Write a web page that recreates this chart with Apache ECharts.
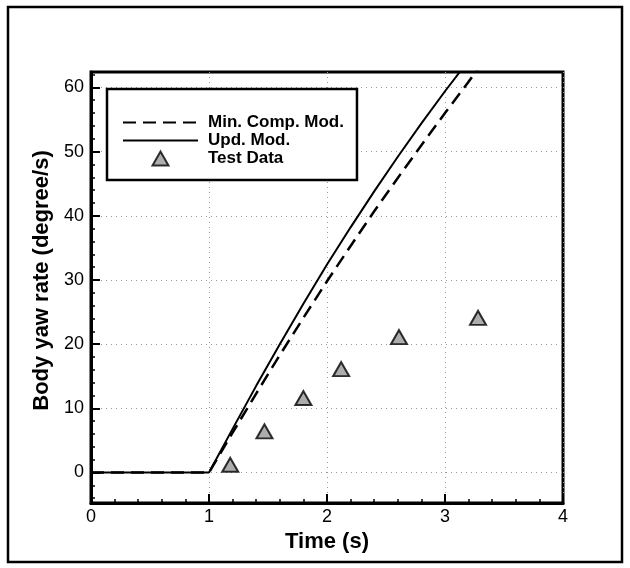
<!DOCTYPE html>
<html>
<head>
<meta charset="utf-8">
<script src="https://cdn.jsdelivr.net/npm/echarts@6/dist/echarts.min.js"></script>
<style>
  html, body { margin: 0; padding: 0; background: #fff; }
  #chart { width: 630px; height: 568px; }
</style>
</head>
<body>
<div id="chart"></div>
<script>
// Updated model response
const updTime = [0, 1.0, 1.2, 1.4, 1.6, 1.8, 2.0, 2.2, 2.4, 2.6, 2.8, 3.0, 3.2, 3.4];
const updRate = [0, 0, 6.8, 13.5, 20.0, 26.3, 32.4, 38.2, 43.8, 49.2, 54.4, 59.4, 64.2, 68.8];

// Minimum complexity model response
const minTime = [0, 1.0, 1.2, 1.4, 1.6, 1.8, 2.0, 2.2, 2.4, 2.6, 2.8, 3.0, 3.2, 3.4];
const minRate = [0, 0, 6.2, 12.3, 18.3, 24.1, 29.8, 35.3, 40.7, 45.9, 51.0, 56.0, 60.9, 65.7];

// Flight test measurements
const testTime = [1.18, 1.47, 1.80, 2.12, 2.61, 3.28];
const testRate = [1.2, 6.4, 11.6, 16.1, 21.1, 24.1];

// Axis ticks
const yTicks = [0, 10, 20, 30, 40, 50, 60];
const yMinorTicks = [-4, -2, 2, 4, 6, 8, 12, 14, 16, 18, 22, 24, 26, 28, 32, 34, 36, 38, 42, 44, 46, 48, 52, 54, 56, 58, 62];

const pairs = (xs, ys) => xs.map((x, i) => [x, ys[i]]);

const FONT = '"Liberation Sans", Arial, Helvetica, sans-serif';
const Y_MIN = -4.75, Y_MAX = 62.4;

const chart = echarts.init(document.getElementById('chart'), null, { renderer: 'canvas' });

chart.setOption({
  animation: false,
  backgroundColor: '#fff',
  graphic: [{
    type: 'rect',
    shape: { x: 8, y: 7, width: 614, height: 555 },
    style: { fill: 'none', stroke: '#000', lineWidth: 2.5 },
    z: 100
  }],
  grid: {
    left: 91, top: 72, width: 472, height: 431,
    show: true, borderColor: '#000', borderWidth: 3, backgroundColor: 'transparent'
  },
  legend: {
    left: 107, top: 89,
    orient: 'vertical',
    backgroundColor: '#fff',
    borderColor: '#000', borderWidth: 2.5, borderRadius: 0,
    padding: [25, 13, 13, 15],
    itemWidth: 75, itemHeight: 14, itemGap: 1,
    symbolKeepAspect: true,
    textStyle: { fontFamily: FONT, fontSize: 17, fontWeight: 'bold', color: '#000', padding: [0, 0, 0, 5] },
    data: [
      { name: 'Min. Comp. Mod.', itemStyle: { opacity: 0 } },
      { name: 'Upd. Mod.', itemStyle: { opacity: 0 } },
      { name: 'Test Data', icon: 'path://M0,14 L8,0 L16,14 Z' }
    ]
  },
  xAxis: {
    type: 'value', min: 0, max: 4, interval: 1,
    name: 'Time (s)', nameLocation: 'middle', nameGap: 27,
    nameTextStyle: { fontFamily: FONT, fontSize: 22, fontWeight: 'bold', color: '#000' },
    axisLine: { show: true, onZero: false, lineStyle: { color: '#000', width: 3 } },
    axisTick: { show: true, inside: true, length: 9, lineStyle: { color: '#000', width: 2 } },
    minorTick: { show: true, splitNumber: 5, length: 4, lineStyle: { color: '#000', width: 1.5 } },
    axisLabel: { fontFamily: FONT, fontSize: 18, color: '#000', margin: 5 },
    splitLine: { show: true, lineStyle: { color: '#999', width: 1, type: [1, 4] } }
  },
  yAxis: [{
    type: 'value', min: Y_MIN, max: Y_MAX,
    name: 'Body yaw rate (degree/s)', nameLocation: 'middle', nameGap: 37,
    nameTextStyle: { fontFamily: FONT, fontSize: 22, fontWeight: 'bold', color: '#000', padding: [0, 0, 0, 14] },
    axisLine: { show: true, onZero: false, lineStyle: { color: '#000', width: 3 } },
    axisTick: { show: true, inside: true, length: 9, customValues: yTicks, lineStyle: { color: '#000', width: 2 } },
    axisLabel: { fontFamily: FONT, fontSize: 18, color: '#000', margin: 7, customValues: yTicks },
    splitLine: { show: true, lineStyle: { color: '#999', width: 1, type: [1, 4] } }
  }, {
    type: 'value', min: Y_MIN, max: Y_MAX, position: 'left',
    axisLine: { show: false },
    axisTick: { show: true, inside: true, length: 4, customValues: yMinorTicks, lineStyle: { color: '#000', width: 1.5 } },
    axisLabel: { show: false },
    splitLine: { show: false }
  }],
  series: [{
    name: 'Min. Comp. Mod.', type: 'line',
    data: pairs(minTime, minRate),
    symbol: 'none', clip: true,
    lineStyle: { color: '#000', width: 2.5, type: [13, 7] },
    itemStyle: { color: '#000' },
    z: 3
  }, {
    name: 'Upd. Mod.', type: 'line',
    data: pairs(updTime, updRate),
    symbol: 'none', clip: true,
    lineStyle: { color: '#000', width: 2 },
    itemStyle: { color: '#000' },
    z: 4
  }, {
    name: 'Test Data', type: 'scatter',
    data: pairs(testTime, testRate),
    symbol: 'triangle', symbolSize: [16, 14],
    itemStyle: { color: '#999', borderColor: '#000', borderWidth: 2 },
    z: 5
  }]
});
</script>
</body>
</html>
